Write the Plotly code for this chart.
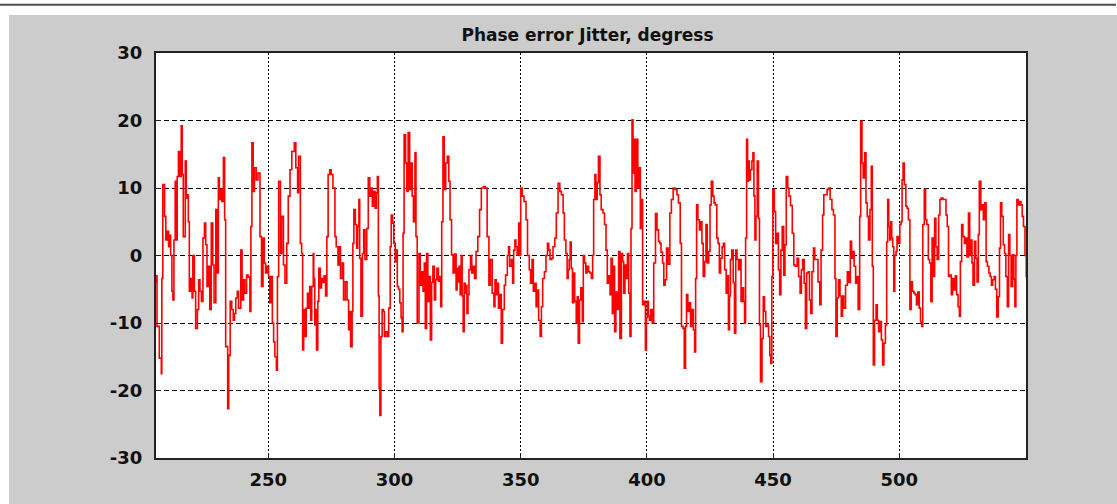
import plotly.graph_objects as go

# ---- data ----
x_a = [205.0, 205.4, 205.9, 206.8, 207.6, 207.8, 208.2, 208.9, 209.4, 209.9, 210.5, 210.9, 211.3, 211.8, 212.2,
       212.6, 213.1, 213.5, 213.9, 214.4, 215.0, 215.5, 215.9, 216.3, 217.1, 217.5, 218.0, 218.3, 218.7, 219.2,
       219.8, 220.1, 220.7, 221.2, 221.9, 222.4, 222.9, 223.5, 224.1, 224.7, 225.2, 225.7, 226.2, 226.8, 227.4,
       228.0, 228.5, 229.2, 229.7, 230.2, 230.6, 231.0, 231.6, 232.2, 232.7, 233.1, 233.9, 234.3, 234.9, 235.5,
       236.1, 236.6, 237.1, 237.7, 238.2, 239.1, 239.6, 240.2, 240.7, 241.4, 242.0, 242.7, 243.1, 243.5, 244.0,
       244.5, 245.2, 245.9, 246.7, 247.3, 247.9, 248.4, 248.9, 249.5, 250.1, 250.6, 251.2, 251.6, 252.1, 252.6,
       253.2, 253.6, 254.1, 254.8, 255.3, 256.0, 256.6, 257.3, 257.9, 258.6, 259.3, 260.3, 260.9, 261.6, 262.0,
       262.7, 263.2, 263.6, 264.0, 264.6]
y_a = [-4, -3, -10.5, -15.2, -17.5, -3.4, 10.5, 5.8, 2.3, 3.6, 1.3, 3, 0, -5.3, -6.6,
       2.3, 11, 2.3, 11.7, 15.4, 11.7, 19.2, 12, 2.8, 14, 8.5, 9, 5, -5.3, -3.4,
       -6.3, 0, -5.3, -10.8, -8, -3.6, -5.3, -6.8, 2.6, 4.8, 1.6, -4.6, -1.6, -8, 4.8,
       -1.4, -7, 6.8, -2.6, 11.5, 8.3, 9.8, 8, 14.5, 5.3, -13.5, -22.7, -14.8, -6.8, -8,
       -9.6, -8.6, -6.3, -5.3, -7.8, 0.8, -6.6, -3.6, -5.6, -2.9, -3.2, -8.3, 4.3, 16.7, 9.5,
       13, 11.2, 12.2, 2.8, -4.6, 2.6, -1.1, -2.6, -1.6, -3.1, -7, -3.1, -10, -12.8, -15,
       -17, -3.1, 11, 0.3, 5.8, -1.4, -4.1, 1.8, 8.8, 12.7, 15.4, 16.7, 13, 9.3, 14.7,
       1.8, 0.3, -14, -8, -12]

x_b = [265.0, 265.5, 266.0, 266.4, 266.8, 267.2, 267.8, 268.0, 268.4, 268.8, 269.1, 269.6, 270.0, 270.6, 271.1,
       271.6, 272.1, 272.7, 273.2, 273.7, 274.3, 274.9, 275.6, 276.4, 276.9, 277.6, 278.2, 278.6, 279.3, 279.8,
       280.5, 281.2, 281.8, 282.2, 282.6, 283.2, 283.5, 283.9, 284.5, 285.0, 285.4, 285.9, 286.2, 286.7, 287.3,
       287.8, 288.3, 289.0, 289.6, 290.2, 290.7, 291.2, 291.8, 292.3, 292.8, 293.2, 293.6, 293.9, 294.2, 294.6,
       295.1, 295.6, 296.0, 296.5, 297.2, 297.7, 298.3, 298.7, 299.3, 299.7, 300.3, 300.7, 301.1, 301.6, 302.1,
       302.6, 303.0, 303.4, 303.8, 304.4, 304.9, 305.4, 306.0, 306.5, 307.0, 307.5, 308.1, 308.5, 309.0, 309.7,
       310.2, 310.7, 311.3, 311.8, 312.2, 312.7, 313.2, 313.8, 314.2, 314.7, 315.2, 315.8, 316.3, 316.8, 317.4,
       317.9, 318.3, 318.7, 319.2, 319.7, 320.3, 320.9, 321.5, 322.0]
y_b = [-7.8, -5.6, -7.8, -4.6, -9.6, -4.6, 0.3, -3.4, -10.3, -8, -14, -6.8, -1.9, -4.8, -3.4,
       -4, -3, -6, 2.8, 12, 12.7, 12, 10, 2.8, 1.3, -1.4, 1.3, -3.4, -1.1, -6.6,
       -3.9, -6.6, -11, -8.3, -13.5, -8.3, 1.8, 6.8, 4.6, 1.1, 4.3, 8.3, -0.4, -9, 0.3,
       3.8, -0.6, 4, 11.5, 8.8, 10, 7.3, 9.5, 7, 9.3, 11.7, -6, -19.7, -23.7, -12,
       -8, -8.3, -12, -11.3, -12, -7.8, 1.3, 6, 4.8, 1.8, -0.9, 0.8, -4.6, -5, -7,
       -9.2, -11.3, 3.3, 17.9, 13.7, 9.5, 18.2, 9.8, 13.7, 8.8, 5, 15.2, 2.8, -10, 0.3,
       -4.4, -2.4, -5.3, -1.1, -10.8, 0.3, -6.8, -3.1, -12.5, -4, -1.6, -6.6, -3.6, -1.9, -3.8,
       -3.1, -7.6, 5, 17.6, 9.8, 13.7, 14.7, 11, 5.3]

x_c = [322.6, 323.2, 323.8, 324.4, 324.8, 325.2, 325.6, 326.0, 326.4, 326.8, 327.2, 327.6, 328.0, 328.4, 328.7,
       329.1, 329.5, 330.1, 330.6, 331.1, 331.7, 332.3, 333.0, 333.7, 334.4, 335.2, 336.0, 336.7, 337.4, 338.0,
       338.7, 339.4, 339.8, 340.3, 340.7, 341.2, 341.7, 342.3, 342.8, 343.5, 344.0, 344.7, 345.2, 345.6, 346.3,
       346.8, 347.2, 347.7, 348.1, 348.6, 349.2, 349.6, 350.0, 350.6, 351.3, 352.1, 352.7, 353.4, 353.9, 354.5,
       355.0, 355.5, 356.1, 356.6, 357.1, 357.7, 358.2, 358.7, 359.4, 360.0, 360.6, 361.1, 361.6, 362.3, 362.8,
       363.5, 364.1, 364.8, 365.5, 366.1, 366.8, 367.3, 367.9, 368.4, 368.8, 369.2, 369.6, 370.0, 370.5, 371.0,
       371.4, 372.0, 372.4, 372.8, 373.3, 373.8, 374.4, 374.8, 375.3, 375.8, 376.3, 376.9, 377.4, 378.0, 378.5,
       378.9, 379.4]
y_c = [0.1, -2.6, 0.2, -5.1, -1.9, -3.9, -1.6, -5.8, 0, -6, -11.3, -4.1, -5.6, -4.4, -8.6,
       -5.8, -2.1, 0, -2.6, -1.6, -3.4, 0.6, 2.8, 6.8, 10, 10.2, 10, 2.8, -4.4, -0.6,
       -5.6, -7.6, -3.6, -5.8, -4.1, -7.8, -5.8, -13, -8, -4.4, -2.9, 0, 1.3, -1.6, -0.6,
       -4.1, 0.8, 2.3, 1.3, 0.1, 4.8, 0, 10, 8.8, 8, 5.3, 0, -2.1, -4.1, -0.6,
       -5.3, -4.1, -7.6, -5.1, -9.6, -12, -7.6, -3.4, -2.4, 0, 1.8, 0.8, -0.6, -0.4, 1.3,
       2.6, 6.3, 10.7, 9.5, 9, 6.3, 2.3, 0.3, -3.4, -2.1, -0.6, 2, -1.9, -7, -2.6,
       -6.8, -10, -6.1, -13, -6.6, -4.8, -9.8, 0, -1.1, -2.6, -1.6, -2.4, -2.6, -3.4, 0,
       8.3, 12]

x_d = [379.8, 380.3, 380.8, 381.4, 381.9, 382.6, 383.2, 383.8, 384.3, 384.8, 385.4, 385.8, 386.3, 386.7, 387.2,
       387.7, 388.3, 388.8, 389.3, 389.9, 390.4, 390.8, 391.3, 391.7, 392.3, 392.8, 393.3, 393.7, 394.1, 394.5,
       394.9, 395.3, 395.8, 396.4, 396.9, 397.4, 397.8, 398.3, 398.9, 399.4, 399.8, 400.2, 400.6, 401.0, 401.5,
       402.1, 402.7, 403.4, 404.0, 404.6, 405.1, 405.6, 406.2, 406.7, 407.2, 407.8, 408.4, 409.1, 409.7, 410.4,
       411.1, 411.9, 412.5, 413.2, 413.7, 414.3, 414.8, 415.3, 415.7, 416.2, 416.8, 417.3, 417.8, 418.4, 418.9,
       419.3, 419.7, 420.2, 420.8, 421.3, 421.8, 422.3, 422.9, 423.4, 423.9, 424.5, 425.0, 425.5, 426.1, 426.6,
       427.1, 427.7, 428.2, 428.7, 429.2, 429.8, 430.3, 430.8, 431.4, 431.9, 432.3, 432.7, 433.1, 433.6, 434.2,
       434.7, 435.2, 435.7, 436.3, 436.8, 437.3]
y_d = [8.3, 10.8, 14.7, 9, 6.8, 6.3, 4.6, 0.8, -4.1, -3, -5.8, -0.4, -8.6, -1.6, -11.3,
       -5.4, -8, 0.6, -12.3, 0.3, -0.9, -5.6, -1.4, -3.4, 0.3, -5.6, -12, 4, 20.1, 12.2,
       17.2, 9.5, 17.2, 10, 13, 4, 8.3, -7.3, -6.8, -14, -9.2, -6.8, -9, -9.6, -8,
       -10, -1.1, 6.2, 3.8, 2.1, 1.8, 0.5, -1.1, -4.4, -3.6, 1.1, -1.3, 6.3, 8.3, 10,
       9.8, 9, 7.8, 1.8, -10.5, -10.8, -16.7, -10.5, -5.8, -8.3, -7, -10.5, -8, -11, -14.3,
       -3.4, 7.5, 5.3, 3.8, 5, 1.8, -3.1, -0.9, 4.6, -1.1, 0.6, 7.5, 11, 8.8, 7.8,
       7.5, 2.6, 1.8, -2.6, -0.4, 1.3, 1.8, -2.1, -5.6, -3, -11, -6, -0.6, 0.8, -4,
       -11.5, 0.8, -0.6, -2.1, -0.6, -6.8]

x_e = [437.7, 438.3, 438.7, 439.1, 439.5, 439.9, 440.3, 440.6, 441.0, 441.6, 442.0, 442.4, 442.8, 443.2, 443.7,
       444.2, 444.6, 445.0, 445.6, 446.1, 446.6, 447.1, 447.7, 448.2, 448.7, 449.1, 449.5, 449.9, 450.5, 451.0,
       451.5, 452.1, 452.6, 453.1, 453.6, 454.2, 454.7, 455.2, 455.8, 456.3, 456.9, 457.6, 458.2, 458.8, 459.5,
       460.1, 460.7, 461.2, 461.7, 462.3, 462.8, 463.3, 463.9, 464.4, 464.9, 465.4, 466.0, 466.5, 467.2, 467.8,
       468.5, 469.0, 469.6, 470.1, 470.7, 471.4, 472.1, 472.6, 473.3, 473.9, 474.5, 474.9, 475.4, 475.9, 476.5,
       477.0, 477.5, 478.0, 478.7, 479.4, 480.0, 480.6, 481.1, 481.6, 482.1, 482.7, 483.2, 483.7, 484.3, 484.7,
       485.2, 485.7, 486.3, 486.8, 487.3, 487.8, 488.4, 488.9, 489.3, 489.7, 490.2, 490.8, 491.3, 491.8, 492.4,
       492.9, 493.4, 493.9, 494.5, 495.0]
y_e = [-4.8, -6.8, -10, 2.6, 17.2, 11, 14, 11.2, 12.7, 14, 15.2, 8.8, 2.3, 5.8, 14,
       5.5, -10.3, -18.7, -12.3, -6.1, -8.3, -10.5, -10.3, -12, -14.8, -16, -3.1, 9.8, 6.5, 1.8,
       3.3, -2.1, -5.8, 0.8, 4.3, -2.9, 1.6, 11.7, 10, 8.8, 7.4, 3.3, -1.4, -1.6, -0.4,
       -3.1, -5.6, -2.1, -0.6, -4.1, -10.8, -2.6, -2.4, -6.6, -8.6, -2.4, 1.1, -0.6, -0.6, -3.9,
       -7.3, 0.8, 6, 9, 9, 9.8, 10, 8.3, 6.8, 6, -3.4, -12, -6.3, -3.6, -6,
       -9, -6, -7.8, -4.4, -2.4, -4, 2.1, -0.4, 0.6, -1.6, -4.1, -3.1, -8, 5.8, 19.9,
       13.7, 11.5, 15.2, 7.8, 5.8, 2.3, 6.8, 13.2, -1.6, -16.2, -9.6, -7.3, -9.6, -11.3, -9.8,
       -12.5, -16.2, -13, -10.3, 2]

x_f = [495.4, 495.8, 496.2, 496.6, 497.0, 497.4, 497.8, 498.2, 498.7, 499.1, 499.7, 500.2, 500.7, 501.1, 501.5,
       502.0, 502.6, 503.1, 503.6, 504.2, 504.7, 505.2, 505.8, 506.3, 506.8, 507.3, 507.9, 508.4, 508.9, 509.3,
       509.9, 510.4, 510.9, 511.5, 512.0, 512.5, 513.0, 513.4, 514.0, 514.5, 515.0, 515.6, 516.1, 516.6, 517.3,
       518.0, 518.5, 519.0, 519.5, 520.1, 520.6, 521.1, 521.7, 522.2, 522.7, 523.3, 523.8, 524.2, 524.7, 525.2,
       525.8, 526.3, 526.8, 527.4, 527.9, 528.4, 528.8, 529.2, 529.8, 530.3, 530.8, 531.3, 531.7, 532.3, 532.8,
       533.3, 533.9, 534.4, 534.9, 535.5, 536.0, 536.5, 537.0, 537.6, 538.1, 538.6, 539.2, 539.7, 540.1, 540.6,
       541.2, 541.7, 542.2, 542.8, 543.3, 543.8, 544.3, 544.9, 545.4, 545.8, 546.2, 546.6, 547.1, 547.7, 548.2,
       548.7, 549.2, 549.8, 550.3, 550.8]
y_f = [8.3, 4.3, 2.3, 5, 2.6, 1.3, -5.3, 0, 0.6, 2.8, 1.8, 4.6, 5, 11.2, 13.7,
       10.5, 7.3, 7, 5.3, -8, -3.9, -5.3, -5.6, -5.8, -7.3, -5.4, -7.8, -9.8, -10.5, 4.6,
       9.8, 5.3, 4.6, -0.6, -1.1, -6.8, 2.6, -3.1, 5.5, 1.3, -0.6, 6, 8.3, 8.5, 8.3,
       8.3, 6, 4.3, -3.1, -2.9, -5.8, -3.4, -5.1, -3, -5.8, -7.6, -9, -0.9, 4.6, 2.8,
       1.8, 2.6, -0.2, 6.3, 0, 2.3, -1.1, -4.4, 2.1, -0.4, -3.9, 3.1, 11, 6.8, 7.5,
       5.3, 7.8, -0.9, -1.6, -2.6, -3.1, -4.4, -3.6, -3.1, -5, -9.1, -6.1, 1.1, 7.8, 5.8,
       1.6, 0.3, -3.1, -7.6, 3.1, 0, -4.6, 0.1, -3.5, -7.6, 0, 8.3, 7.5, 8, 7.5,
       5.8, 4.3, 0, -3.1, -4.6]

sample_x = x_a + x_b + x_c + x_d + x_e + x_f
phase_err = y_a + y_b + y_c + y_d + y_e + y_f

x_tickvals = [250, 300, 350, 400, 450, 500]
x_ticktext = ["250", "300", "350", "400", "450", "500"]
y_tickvals = [-30, -20, -10, 0, 10, 20, 30]
y_ticktext = ["-30", "-20", "-10", "0", "10", "20", "30"]
title_text = "Phase error Jitter, degress"

# ---- figure geometry ----
W, H = 1117, 504
L, R, T, B = 156, 1026, 53, 458
pw, ph = R - L, B - T

def px_x(p):
    return (p - L) / pw

def px_y(p):
    return (B - p) / ph

fig = go.Figure()
fig.add_trace(go.Scatter(x=sample_x, y=phase_err, mode="lines",
                         line=dict(color="#ff0000", width=1.6, shape="hv"), hoverinfo="skip"))

tick_font = dict(family="DejaVu Sans", size=18, color="#111111", weight="bold")

fig.update_layout(
    width=W, height=H,
    margin=dict(l=L, r=W - R, t=T, b=H - B, pad=0),
    paper_bgcolor="#cccccc",
    plot_bgcolor="#ffffff",
    showlegend=False,
    title=dict(text=title_text, x=px_x(587.5), xref="paper", xanchor="center",
               y=1 - 35 / H, yref="container", yanchor="middle",
               font=dict(family="DejaVu Sans", size=17, color="#111111", weight="bold")),
    xaxis=dict(range=[205.5, 550.2], tickvals=x_tickvals, ticktext=x_ticktext,
               showgrid=True, gridcolor="#000000", gridwidth=1, griddash="2px,2px",
               zeroline=False, showline=True, linecolor="#222222", linewidth=2, mirror=True,
               ticks="inside", ticklen=5, tickcolor="#222222", tickfont=tick_font,
               ticklabelstandoff=4),
    yaxis=dict(range=[-30, 30], tickvals=y_tickvals, ticktext=y_ticktext,
               showgrid=True, gridcolor="#000000", gridwidth=1, griddash="5px,3px",
               zeroline=False, showline=True, linecolor="#222222", linewidth=2, mirror=True,
               ticks="inside", ticklen=5, tickcolor="#222222", tickfont=tick_font,
               ticklabelstandoff=8),
    shapes=[
        dict(type="rect", xref="paper", yref="paper", x0=px_x(0), x1=px_x(W), y0=px_y(0), y1=px_y(15),
             fillcolor="#ffffff", line=dict(width=0), layer="above"),
        dict(type="rect", xref="paper", yref="paper", x0=px_x(0), x1=px_x(9), y0=px_y(0), y1=px_y(H),
             fillcolor="#ffffff", line=dict(width=0), layer="above"),
        dict(type="line", xref="paper", yref="paper", x0=px_x(0), x1=px_x(W - 1), y0=px_y(4.8), y1=px_y(4.8),
             line=dict(color="#505050", width=2), layer="above"),
    ],
)

fig.write_html("out.html", config={"displayModeBar": False},
               post_script="document.body.style.margin='0';document.body.style.overflow='hidden';")
